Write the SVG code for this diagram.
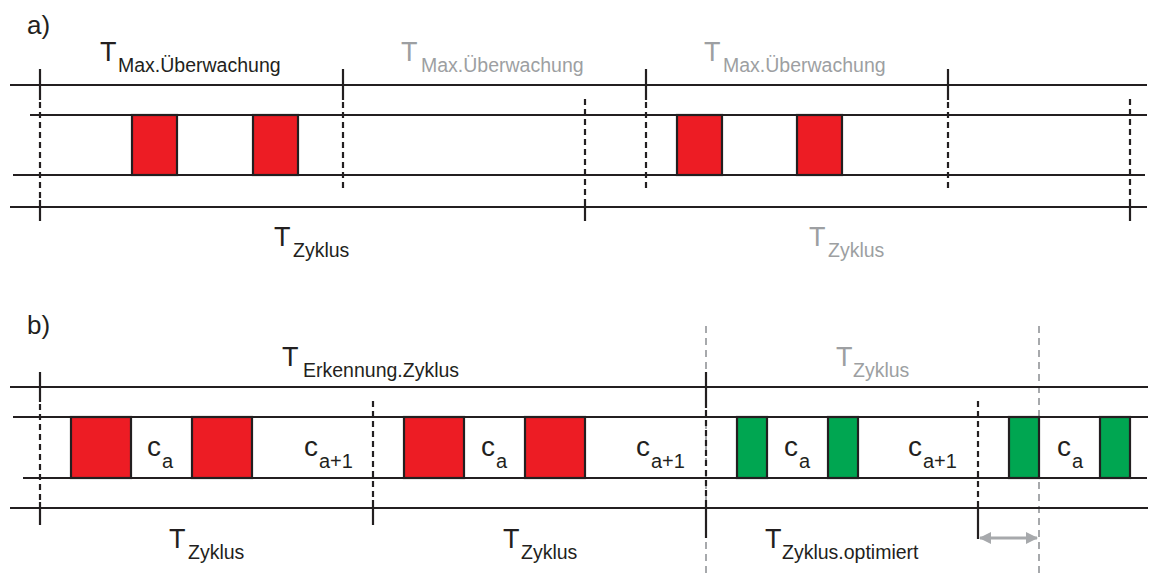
<svg xmlns="http://www.w3.org/2000/svg" width="1156" height="574" viewBox="0 0 1156 574">
  <defs>
    <style>
      .bg { fill: #ffffff; }
      .rail { stroke: #231f20; stroke-width: 2.2; fill: none; }
      .tick { stroke: #231f20; stroke-width: 2.2; fill: none; }
      .dash { stroke: #231f20; stroke-width: 2.2; fill: none; stroke-dasharray: 6 4; }
      .gdash { stroke: #a7a9ac; stroke-width: 2; fill: none; stroke-dasharray: 7 5; }
      .red { fill: #ed1c24; stroke: #231f20; stroke-width: 2.2; }
      .green { fill: #00a651; stroke: #231f20; stroke-width: 2.2; }
      .big { font-family: "Liberation Sans", Arial, sans-serif; font-size: 27px; fill: #231f20; }
      .sub { font-family: "Liberation Sans", Arial, sans-serif; font-size: 19.5px; fill: #231f20; }
      .cbig { font-family: "Liberation Sans", Arial, sans-serif; font-size: 28px; fill: #231f20; }
      .csub { font-family: "Liberation Sans", Arial, sans-serif; font-size: 20px; fill: #231f20; }
      .grey { fill: #9d9fa2; }
      .panel { font-family: "Liberation Sans", Arial, sans-serif; font-size: 26px; fill: #231f20; }
      .arrow { stroke: #a7a9ac; stroke-width: 3; fill: none; }
    </style>
    <marker id="ahead" viewBox="0 0 12 12" refX="11" refY="6" markerWidth="12" markerHeight="12" markerUnits="userSpaceOnUse" orient="auto-start-reverse">
      <path d="M0,0 L12,6 L0,12 Z" fill="#a7a9ac"/>
    </marker>
  </defs>

  <rect class="bg" x="0" y="0" width="1156" height="574"/>

  <!-- ===== Part a ===== -->
  <text class="panel" x="27" y="34">a)</text>

  <g id="a-rails">
    <line class="rail" x1="10" y1="85" x2="1147" y2="85"/>
    <line class="rail" x1="30" y1="115" x2="1147" y2="115"/>
    <line class="rail" x1="13" y1="175" x2="1145" y2="175"/>
    <line class="rail" x1="10" y1="207" x2="1147" y2="207"/>
  </g>

  <g id="a-blocks">
    <rect class="red" x="132" y="115" width="45" height="60"/>
    <rect class="red" x="253" y="115" width="45" height="60"/>
    <rect class="red" x="677" y="115" width="45" height="60"/>
    <rect class="red" x="797" y="115" width="45" height="60"/>
  </g>

  <g id="a-markers">
    <!-- start of cycle and monitoring window -->
    <line class="tick" x1="40" y1="69" x2="40" y2="100"/>
    <line class="dash" x1="40" y1="102" x2="40" y2="200"/>
    <line class="tick" x1="40" y1="200" x2="40" y2="221"/>
    <!-- monitoring window boundaries -->
    <line class="tick" x1="343" y1="69" x2="343" y2="100"/>
    <line class="dash" x1="343" y1="102" x2="343" y2="188"/>
    <line class="tick" x1="646" y1="69" x2="646" y2="100"/>
    <line class="dash" x1="646" y1="102" x2="646" y2="188"/>
    <line class="tick" x1="948" y1="69" x2="948" y2="100"/>
    <line class="dash" x1="948" y1="102" x2="948" y2="188"/>
    <!-- cycle boundaries -->
    <line class="dash" x1="585" y1="99" x2="585" y2="200"/>
    <line class="tick" x1="585" y1="200" x2="585" y2="221"/>
    <line class="dash" x1="1130" y1="99" x2="1130" y2="200"/>
    <line class="tick" x1="1130" y1="200" x2="1130" y2="221"/>
  </g>

  <g id="a-labels">
    <text class="big" x="100" y="61">T</text>
    <text class="sub" x="118" y="72">Max.Überwachung</text>
    <text class="big grey" x="401" y="61">T</text>
    <text class="sub grey" x="421" y="72">Max.Überwachung</text>
    <text class="big grey" x="704" y="61">T</text>
    <text class="sub grey" x="723" y="72">Max.Überwachung</text>
    <text class="big" x="274" y="246">T</text>
    <text class="sub" x="293" y="257">Zyklus</text>
    <text class="big grey" x="809" y="246">T</text>
    <text class="sub grey" x="828" y="257">Zyklus</text>
  </g>

  <!-- ===== Part b ===== -->
  <text class="panel" x="27" y="334">b)</text>

  <g id="b-guides">
    <line class="gdash" x1="706" y1="326" x2="706" y2="574"/>
    <line class="gdash" x1="1039" y1="326" x2="1039" y2="574"/>
  </g>

  <g id="b-rails">
    <line class="rail" x1="10" y1="387" x2="1148" y2="387"/>
    <line class="rail" x1="13" y1="417" x2="1148" y2="417"/>
    <line class="rail" x1="23" y1="478" x2="1147" y2="478"/>
    <line class="rail" x1="10" y1="508" x2="1148" y2="508"/>
  </g>

  <g id="b-blocks">
    <rect class="red" x="71" y="417" width="60" height="61"/>
    <rect class="red" x="192" y="417" width="60" height="61"/>
    <rect class="red" x="404" y="417" width="60" height="61"/>
    <rect class="red" x="525" y="417" width="60" height="61"/>
    <rect class="green" x="737" y="417" width="30" height="61"/>
    <rect class="green" x="828" y="417" width="30" height="61"/>
    <rect class="green" x="1009" y="417" width="30" height="61"/>
    <rect class="green" x="1100" y="417" width="30" height="61"/>
  </g>

  <g id="b-markers">
    <line class="tick" x1="40" y1="372" x2="40" y2="402"/>
    <line class="dash" x1="40" y1="404" x2="40" y2="502"/>
    <line class="tick" x1="40" y1="502" x2="40" y2="525"/>
    <line class="dash" x1="373" y1="401" x2="373" y2="500"/>
    <line class="tick" x1="373" y1="500" x2="373" y2="525"/>
    <line class="tick" x1="706" y1="372" x2="706" y2="408"/>
    <line class="dash" x1="706" y1="410" x2="706" y2="503"/>
    <line class="tick" x1="706" y1="503" x2="706" y2="538"/>
    <line class="dash" x1="978" y1="401" x2="978" y2="503"/>
    <line class="tick" x1="978" y1="503" x2="978" y2="539"/>
  </g>

  <g id="connectors">
    <line class="arrow" x1="980" y1="538" x2="1037" y2="538" marker-start="url(#ahead)" marker-end="url(#ahead)"/>
  </g>

  <g id="b-labels">
    <text class="big" x="282" y="366">T</text>
    <text class="sub" x="303" y="377">Erkennung.Zyklus</text>
    <text class="big grey" x="836" y="366">T</text>
    <text class="sub grey" x="853" y="377">Zyklus</text>
    <text class="big" x="169" y="548">T</text>
    <text class="sub" x="188" y="559">Zyklus</text>
    <text class="big" x="503" y="548">T</text>
    <text class="sub" x="521" y="559">Zyklus</text>
    <text class="big" x="765" y="548">T</text>
    <text class="sub" x="782" y="559">Zyklus.optimiert</text>
  </g>

  <g id="b-channels">
    <text class="cbig" x="147" y="456">c</text><text class="csub" x="162" y="468">a</text>
    <text class="cbig" x="304" y="456">c</text><text class="csub" x="319" y="468">a+1</text>
    <text class="cbig" x="481" y="456">c</text><text class="csub" x="496" y="468">a</text>
    <text class="cbig" x="636" y="456">c</text><text class="csub" x="651" y="468">a+1</text>
    <text class="cbig" x="784" y="456">c</text><text class="csub" x="799" y="468">a</text>
    <text class="cbig" x="908" y="456">c</text><text class="csub" x="923" y="468">a+1</text>
    <text class="cbig" x="1057" y="456">c</text><text class="csub" x="1072" y="468">a</text>
  </g>
</svg>
